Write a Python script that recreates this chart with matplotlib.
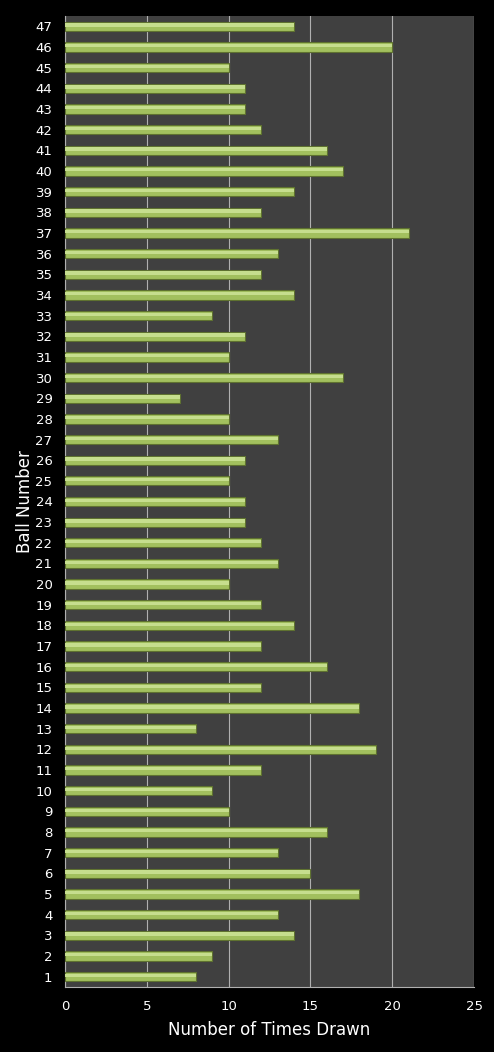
import numpy as np
import matplotlib.pyplot as plt

balls = list(range(1, 48))
times_drawn = [8, 9, 14, 13, 18, 15, 13, 16, 10, 9,
               12, 19, 8, 18, 12, 16, 12, 14, 12, 10,
               13, 12, 11, 11, 10, 11, 13, 10, 7, 17,
               10, 11, 9, 14, 12, 13, 21, 12, 14, 17,
               16, 12, 11, 11, 10, 20, 14]
x_ticks = [0, 5, 10, 15, 20, 25]

fig = plt.figure(figsize=(4.94, 10.52), dpi=100, facecolor="black")
ax = fig.add_axes([65 / 494, 65 / 1052, 409 / 494, 971 / 1052])
ax.set_facecolor("#404040")

y = np.arange(len(balls))
# base bar with darker rim, then lighter strip for the bevel look
ax.barh(y, times_drawn, height=0.45, color="#a2c05e", edgecolor="#5f7230",
        linewidth=0.8, zorder=3)
ax.barh(y + 0.06, times_drawn, height=0.16, color="#c6de8e", linewidth=0, zorder=4)

ax.set_xlim(0, 25)
ax.set_ylim(-0.5, len(balls) - 0.5)
ax.set_xticks(x_ticks)
ax.set_yticks(y)
ax.set_yticklabels([str(b) for b in balls])
ax.xaxis.grid(True, color="#b0b0b0", linewidth=0.8, zorder=0)
ax.set_axisbelow(True)
ax.tick_params(colors="white", labelsize=9.5, length=0, pad=9)

for side in ["top", "right"]:
    ax.spines[side].set_visible(False)
for side in ["left", "bottom"]:
    ax.spines[side].set_color("#b0b0b0")

ax.set_xlabel("Number of Times Drawn", color="white", fontsize=12, labelpad=6)
ax.set_ylabel("Ball Number", color="white", fontsize=12, labelpad=1)

fig.savefig("out.png", dpi=100, facecolor="black")
